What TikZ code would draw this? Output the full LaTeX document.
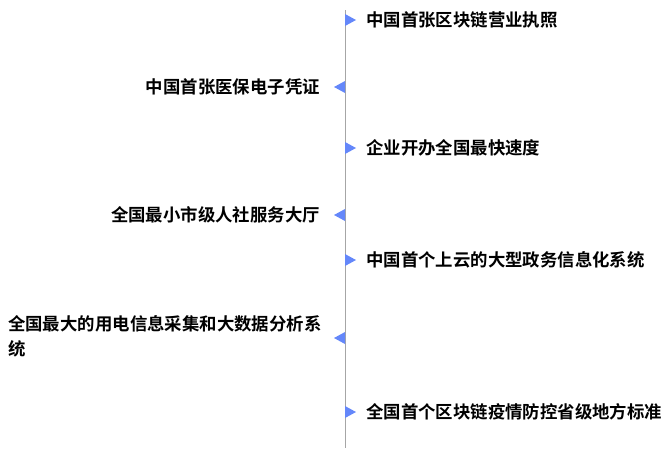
\documentclass[tikz,border=0pt]{standalone}
\usepackage{fontspec}
\newfontfamily\cjk{Noto Sans CJK SC}[BoldFont=* Bold]
\usetikzlibrary{positioning}
\definecolor{markblue}{RGB}{100,135,250}
\tikzset{
  lbl/.style={font=\cjk\bfseries\fontsize{17.4}{25}\selectfont, inner sep=0pt},
  rmark/.style={fill=markblue, draw=none},
}
\begin{document}
\begin{tikzpicture}[x=1pt,y=-1pt]
\useasboundingbox (0,0) rectangle (671,455);

\coordinate (top) at (345,10);
\coordinate (bot) at (345,448);
\draw[gray!70, line width=0.8pt] (top) -- (bot);

% right side
\foreach \n/\y/\t in {r1/20/中国首张区块链营业执照, r2/148/企业开办全国最快速度, r3/260/中国首个上云的大型政务信息化系统, r4/412/全国首个区块链疫情防控省级地方标准}{
  \fill[rmark] (345,\y-6) -- (356,\y) -- (345,\y+6) -- cycle;
  \node (\n)[lbl, anchor=west] at (366,\y) {\t};
}

% left side
\foreach \n/\y/\t in {l1/87/中国首张医保电子凭证, l2/215/全国最小市级人社服务大厅}{
  \fill[rmark] (345,\y-6) -- (334,\y) -- (345,\y+6) -- cycle;
  \node (\n)[lbl, anchor=east] at (320,\y) {\t};
}
\fill[rmark] (345,332) -- (334,338) -- (345,344) -- cycle;
\node (l3)[lbl, anchor=north west, align=left] at (8,315) {全国最大的用电信息采集和大数据分析系\\统};

\end{tikzpicture}
\end{document}
